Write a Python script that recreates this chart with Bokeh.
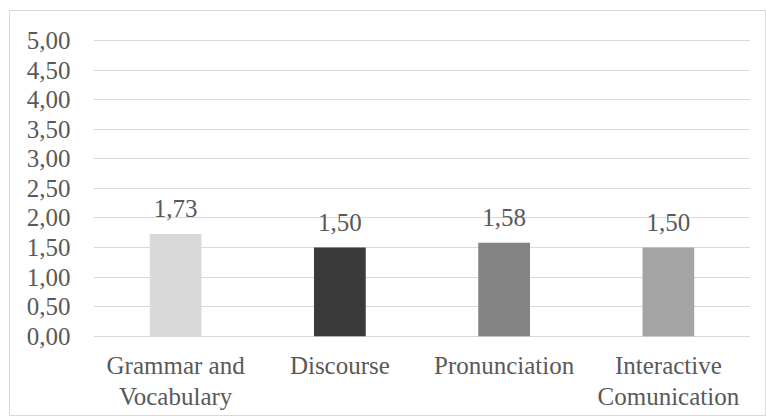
from bokeh.plotting import figure
from bokeh.models import ColumnDataSource, LabelSet, Range1d, FixedTicker
from bokeh.embed import file_html
from bokeh.resources import INLINE

categories = ["Grammar and\nVocabulary", "Discourse", "Pronunciation", "Interactive\nComunication"]
scores = [1.73, 1.50, 1.58, 1.50]
bar_colors = ["#d9d9d9", "#3a3a3a", "#838383", "#a5a5a5"]
y_ticks = [0, 0.5, 1, 1.5, 2, 2.5, 3, 3.5, 4, 4.5, 5]

def fmt(v):
    return f"{v:.2f}".replace(".", ",")

src = ColumnDataSource(dict(
    cat=categories,
    val=scores,
    color=bar_colors,
    label=[fmt(v) for v in scores],
))

FONT = "Liberation Serif"
TXT = "#595959"

p = figure(
    x_range=categories,
    y_range=Range1d(-0.02, 5.05),
    width=757, height=406,
    output_backend="svg", toolbar_location=None,
    min_border_left=83, min_border_right=17, min_border_top=26, min_border_bottom=80,
)
p.styles = {"margin-left": "9px", "margin-top": "10px", "border": "1px solid #d9d9d9"}
p.outline_line_color = None
p.background_fill_color = "white"
p.border_fill_color = "white"

p.vbar(x="cat", top="val", bottom=0, width=0.315, fill_color="color", line_color=None, source=src)

labels = LabelSet(x="cat", y="val", text="label", source=src, text_align="center",
                  text_baseline="alphabetic", y_offset=17, text_color=TXT,
                  text_font=FONT, text_font_size="25px")
p.add_layout(labels)

p.xgrid.grid_line_color = None
p.ygrid.grid_line_color = "#d9d9d9"
p.ygrid.grid_line_width = 1.2
p.yaxis.ticker = FixedTicker(ticks=y_ticks)
p.yaxis.major_label_overrides = {t: fmt(t) for t in y_ticks}

for ax in (p.xaxis, p.yaxis):
    ax.axis_line_color = None
    ax.major_tick_line_color = None
    ax.minor_tick_line_color = None
    ax.major_tick_out = 0
    ax.major_tick_in = 0
    ax.major_label_text_font = FONT
    ax.major_label_text_font_size = "25px"
    ax.major_label_text_color = TXT

p.yaxis.major_label_standoff = 23
p.xaxis.major_label_standoff = 14
p.xaxis.major_label_text_line_height = 1.15

open("out.html", "w").write(file_html(p, INLINE))
